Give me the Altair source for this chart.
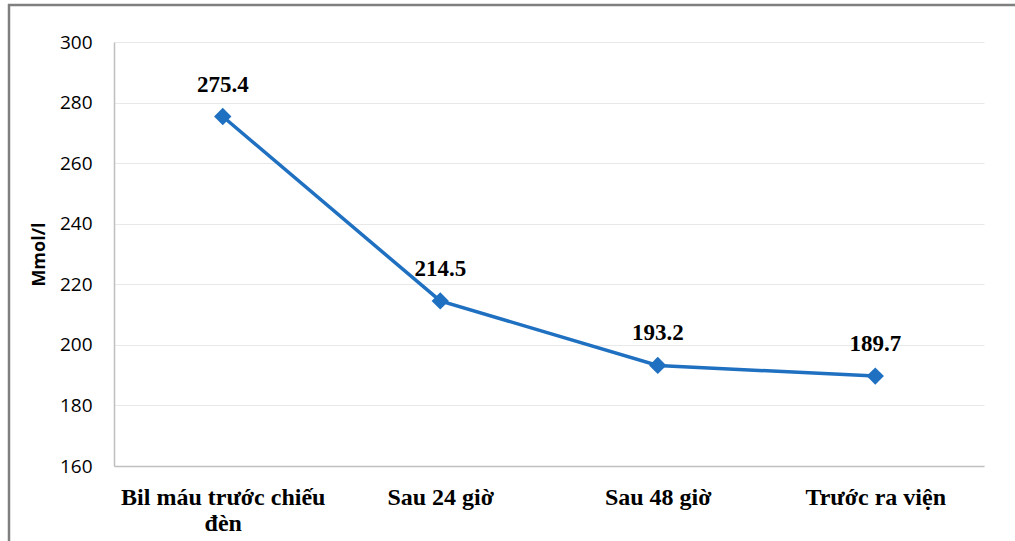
import altair as alt
import pandas as pd

# Serum bilirubin over the course of phototherapy
stages = ["Bil máu trước chiếu đèn", "Sau 24 giờ", "Sau 48 giờ", "Trước ra viện"]
values = [275.4, 214.5, 193.2, 189.7]
y_ticks = [160, 180, 200, 220, 240, 260, 280, 300]

df = pd.DataFrame({"stage": stages, "value": values})

W, H = 870, 424
PAD = {"left": 114, "top": 42, "right": 31, "bottom": 75}
BLUE = "#1F70C1"

x_enc = alt.X(
    "stage:N",
    sort=stages,
    scale=alt.Scale(paddingInner=0, paddingOuter=0),
    axis=alt.Axis(
        title=None,
        labelAngle=0,
        labelFont="Liberation Serif",
        labelFontWeight="bold",
        labelFontSize=24,
        labelColor="#000000",
        labelPadding=19,
        labelLineHeight=26,
        labelLimit=400,
        labelBaseline="top",
        labelExpr="datum.label == 'Bil máu trước chiếu đèn' ? ['Bil máu trước chiếu', 'đèn'] : datum.label",
        ticks=False,
        domainColor="#BFBFBF",
        domainWidth=1.5,
        grid=False,
    ),
)
y_enc = alt.Y(
    "value:Q",
    scale=alt.Scale(domain=[160, 300], nice=False, zero=False),
    axis=alt.Axis(
        title="Mmol/l",
        titleFont="Open Sans",
        titleFontWeight="bold",
        titleFontSize=18,
        titleColor="#000000",
        titlePadding=11,
        values=y_ticks,
        labelFont="Open Sans",
        labelFontSize=19,
        labelColor="#000000",
        labelPadding=22,
        ticks=False,
        domainColor="#BFBFBF",
        domainWidth=1.5,
        gridColor="#E8E8E8",
        gridWidth=1,
    ),
)

base = alt.Chart(df).encode(x=x_enc, y=y_enc)

line = base.mark_line(color=BLUE, strokeWidth=3.5)
points = base.mark_point(shape="diamond", filled=True, size=300, color=BLUE, opacity=1)
labels = base.mark_text(
    font="Liberation Serif", fontWeight="bold", fontSize=23, color="#000000",
    dy=-32, baseline="middle", align="center",
).encode(text=alt.Text("value:Q", format=".1f"))

# Frame edges along the top and left of the figure
frame_top = alt.Chart().mark_rule(color="#7F7F7F", strokeWidth=2.5).encode(
    x=alt.value(8 - PAD["left"]), x2=alt.value(1015 - PAD["left"]), y=alt.value(5 - PAD["top"])
)
frame_left = alt.Chart().mark_rule(color="#7F7F7F", strokeWidth=2.5).encode(
    x=alt.value(9 - PAD["left"]), y=alt.value(4 - PAD["top"]), y2=alt.value(541 - PAD["top"])
)

chart = alt.layer(line, points, labels, frame_top, frame_left).properties(
    width=W, height=H,
    autosize=alt.AutoSizeParams(type="none"),
    padding=PAD,
    background="#FFFFFF",
).configure_view(stroke=None)

chart.save("out.html", embed_options={"renderer": "svg", "actions": False})
